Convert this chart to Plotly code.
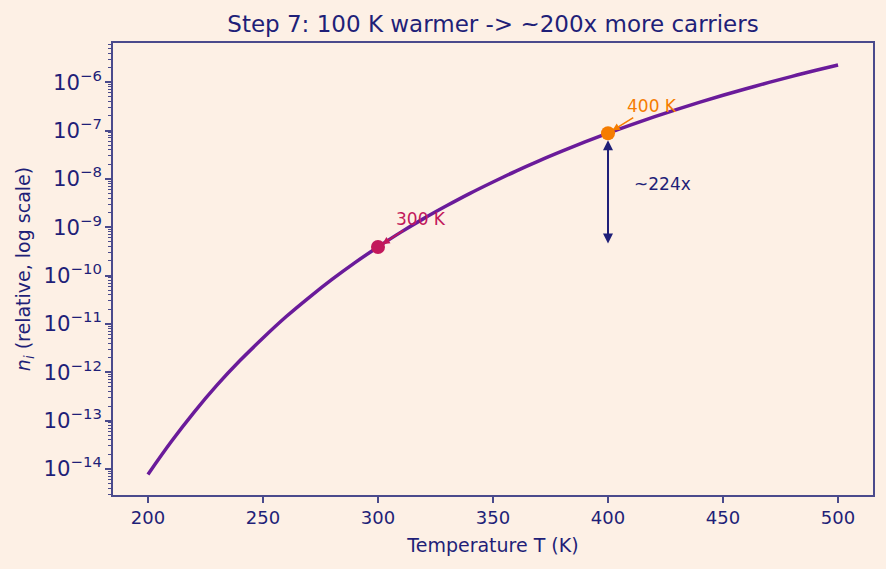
import math
import plotly.graph_objects as go

# Data (relative intrinsic carrier concentration)
temps_K = [200, 210, 220, 230, 240, 250, 260, 270, 280, 290, 300, 310, 320, 330, 340, 350,
           360, 370, 380, 390, 400, 410, 420, 430, 440, 450, 460, 470, 480, 490, 500]
ni_rel = [7.7e-15, 3.6e-14, 1.48e-13, 5.4e-13, 1.74e-12, 5.1e-12, 1.40e-11, 3.5e-11, 8.3e-11,
          1.85e-10, 3.9e-10, 7.9e-10, 1.52e-9, 2.8e-9, 5.0e-9, 8.6e-9, 1.45e-8, 2.36e-8,
          3.74e-8, 5.8e-8, 8.8e-8, 1.31e-7, 1.91e-7, 2.73e-7, 3.85e-7, 5.35e-7, 7.3e-7,
          9.9e-7, 1.32e-6, 1.74e-6, 2.26e-6]

marker_T = [300, 400]
marker_ni = [3.9e-10, 8.8e-8]
marker_labels = ["300 K", "400 K"]
ratio_label = "~224x"

x_ticks = [200, 250, 300, 350, 400, 450, 500]

navy = "#1f1f78"
frame = "#4a4a8c"
bg = "#fdf0e5"
purple = "#6a1b9a"
crimson = "#c2185b"
orange = "#f57c00"

fig = go.Figure()
fig.add_trace(go.Scatter(x=temps_K, y=ni_rel, mode="lines",
                         line=dict(color=purple, width=3.5, shape="spline"),
                         showlegend=False, hoverinfo="skip"))
fig.add_trace(go.Scatter(x=marker_T, y=marker_ni, mode="markers",
                         marker=dict(color=[crimson, orange], size=14),
                         showlegend=False, hoverinfo="skip"))

# labels with arrows
for T, n, lab, col, dx, dy in [(marker_T[0], marker_ni[0], marker_labels[0], crimson, 43, -28),
                               (marker_T[1], marker_ni[1], marker_labels[1], orange, 44, -27)]:
    fig.add_annotation(x=T, y=math.log10(n), text=lab, showarrow=True,
                       ax=dx, ay=dy, arrowcolor=col, arrowhead=2, arrowwidth=1.5,
                       arrowsize=1, standoff=5, font=dict(color=col, size=17))

# double-headed ratio arrow
fig.add_annotation(x=marker_T[1], y=math.log10(marker_ni[1]),
                   ax=marker_T[1], ay=math.log10(marker_ni[0]),
                   axref="x", ayref="y", xref="x", yref="y",
                   showarrow=True, text="", arrowside="end+start",
                   arrowhead=2, arrowwidth=2, arrowsize=1, arrowcolor=navy,
                   standoff=7, startstandoff=2)
fig.add_annotation(x=410.4, y=-8.107, text=ratio_label, showarrow=False,
                   xanchor="left", yanchor="middle", font=dict(color=navy, size=17))

fig.update_layout(
    width=886, height=569,
    margin=dict(l=113, r=13, t=43, b=74),
    paper_bgcolor=bg, plot_bgcolor=bg,
    font=dict(family="DejaVu Sans", color=navy, size=18),
    title=dict(text="Step 7: 100 K warmer -> ~200x more carriers",
               x=(113 + 873) / 2 / 886, xanchor="center", y=1 - 24 / 569, yanchor="middle",
               font=dict(size=23, color=navy)),
)
fig.update_xaxes(range=[184.8, 515.2], tickvals=x_ticks, showgrid=False, zeroline=False,
                 showline=True, mirror=True, linecolor=frame, linewidth=1.5,
                 ticks="outside", ticklen=6, tickcolor=frame, tickwidth=1.5,
                 tickfont=dict(size=18, color=navy),
                 title=dict(text="Temperature T (K)", font=dict(size=19, color=navy), standoff=11))
fig.update_yaxes(type="log", range=[-14.54, -5.19], dtick=1, exponentformat="power",
                 showgrid=False, zeroline=False,
                 showline=True, mirror=True, linecolor=frame, linewidth=1.5,
                 ticks="outside", ticklen=6, tickcolor=frame, tickwidth=1.5,
                 minor=dict(ticks="outside", ticklen=3, tickcolor=frame, tickwidth=1, dtick="D1", showgrid=False),
                 tickfont=dict(size=17, color=navy),
                 title=dict(text="<i>n<sub>i</sub></i> (relative, log scale)",
                            font=dict(size=19, color=navy), standoff=8))

fig.write_html("out.html")
